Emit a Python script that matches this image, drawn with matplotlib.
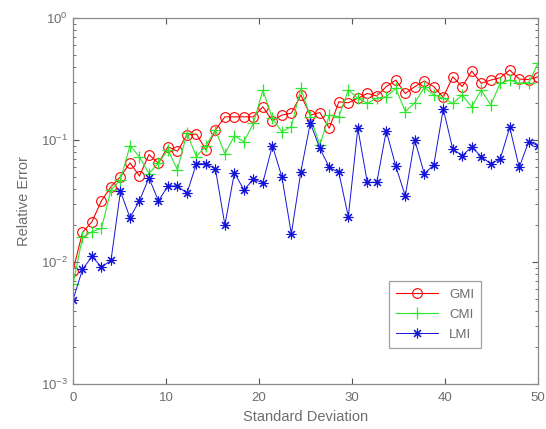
import numpy as np
from matplotlib import pyplot as plt

# x grid: 50 samples between 0 and 50
std_dev = np.linspace(0, 50, 50)

gmi = [0.0085, 0.0175, 0.0214, 0.0318, 0.0414, 0.050, 0.065, 0.0507, 0.076, 0.0645,
       0.088, 0.081, 0.110, 0.112, 0.083, 0.121, 0.155, 0.155, 0.155, 0.155,
       0.187, 0.144, 0.160, 0.166, 0.234, 0.160, 0.168, 0.125, 0.206, 0.202,
       0.220, 0.241, 0.230, 0.274, 0.310, 0.241, 0.274, 0.305, 0.274, 0.224,
       0.330, 0.274, 0.368, 0.292, 0.310, 0.324, 0.375, 0.316, 0.313, 0.330]

cmi = [0.0066, 0.0159, 0.0177, 0.0189, 0.039, 0.047, 0.090, 0.073, 0.053, 0.065,
       0.083, 0.057, 0.114, 0.073, 0.090, 0.121, 0.077, 0.108, 0.097, 0.137,
       0.257, 0.151, 0.117, 0.129, 0.265, 0.155, 0.091, 0.160, 0.155, 0.257,
       0.220, 0.200, 0.220, 0.227, 0.265, 0.171, 0.202, 0.270, 0.234, 0.220,
       0.200, 0.234, 0.187, 0.257, 0.194, 0.292, 0.310, 0.292, 0.295, 0.430]

lmi = [0.0049, 0.0087, 0.0111, 0.0091, 0.0103, 0.038, 0.0231, 0.0318, 0.049, 0.0317,
       0.042, 0.042, 0.0366, 0.064, 0.064, 0.058, 0.0201, 0.054, 0.039, 0.0476,
       0.0447, 0.090, 0.050, 0.0170, 0.055, 0.138, 0.0855, 0.0597, 0.0543, 0.0235,
       0.125, 0.045, 0.045, 0.119, 0.061, 0.0348, 0.100, 0.053, 0.0624, 0.180,
       0.0844, 0.0744, 0.088, 0.073, 0.064, 0.070, 0.127, 0.0597, 0.097, 0.090]

x_ticks = [0, 10, 20, 30, 40, 50]

plt.rcParams['font.family'] = ['Liberation Sans', 'DejaVu Sans']

grey = '#8a8a8a'
text_grey = '#6e6e6e'

fig = plt.figure(figsize=(5.46, 4.29), dpi=100)
ax = fig.add_axes([0.1337, 0.1049, 0.852, 0.853])

ax.plot(std_dev, gmi, color='red', lw=0.8, marker='o', ms=7,
        mfc='none', mew=0.8, label='GMI')
ax.plot(std_dev, cmi, color='#2ee62e', lw=0.8, marker='+', ms=9,
        mew=0.9, label='CMI')
ax.plot(std_dev, lmi, color='#1414d8', lw=0.7, marker=(8, 2, 0), ms=7,
        mew=0.8, label='LMI')

ax.set_yscale('log')
ax.set_xlim(0, 50)
ax.set_ylim(1e-3, 1e0)
ax.set_xticks(x_ticks)

for side in ax.spines.values():
    side.set_color(grey)
    side.set_linewidth(0.9)

ax.tick_params(which='both', direction='in', top=True, right=True,
               color='#555555', labelcolor=text_grey, labelsize=9.5)
ax.tick_params(which='major', length=4)
ax.tick_params(which='minor', length=2)
ax.tick_params(axis='x', pad=6)

ax.set_xlabel('Standard Deviation', fontsize=10.5, color=text_grey, labelpad=4)
ax.set_ylabel('Relative Error', fontsize=10.5, color=text_grey, labelpad=7)

leg = ax.legend(loc='lower left', bbox_to_anchor=(0.665, 0.08), fancybox=False,
                edgecolor=grey, fontsize=9.5, handlelength=3.2,
                labelcolor=text_grey, borderpad=0.55, labelspacing=0.6)
leg.get_frame().set_linewidth(0.9)

fig.savefig('out.png', dpi=100)
